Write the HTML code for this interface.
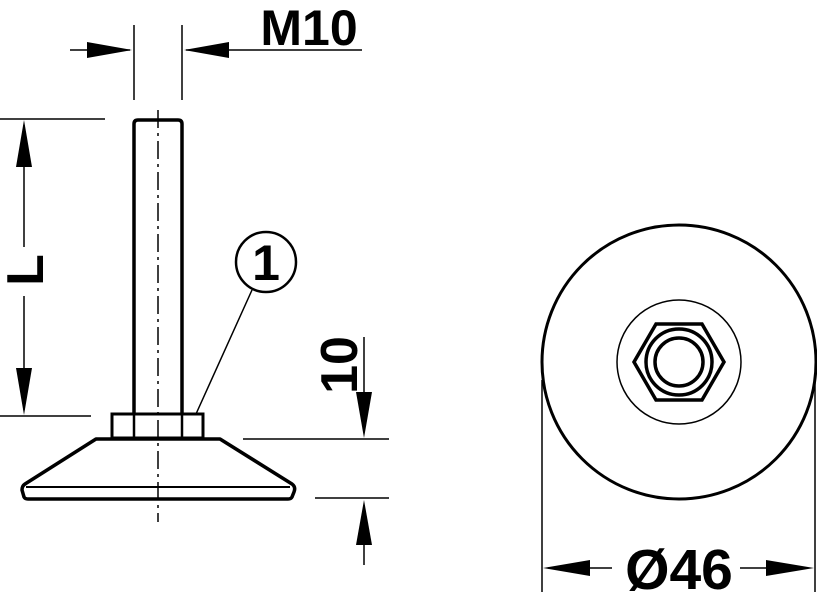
<!DOCTYPE html>
<html><head><style>html,body{margin:0;padding:0;background:#fff}svg{display:block}</style></head><body>
<svg width="817" height="592" viewBox="0 0 817 592" xmlns="http://www.w3.org/2000/svg">
<g stroke="#000" fill="none">
<path d="M134,414 V124 Q134,120 138,120 H178 Q182,120 182,124 V414" stroke-width="3.5"/>
<rect x="112" y="414" width="91" height="24" stroke-width="3"/>
<line x1="134" y1="414" x2="134" y2="438" stroke-width="2.5"/>
<line x1="182" y1="414" x2="182" y2="438" stroke-width="2.5"/>
<path d="M96,439 H220 L292,484 Q296,487 294,492 L292,497 Q291,499 288,499 H28 Q25,499 24,497 L22,490 Q22,486 25,484 Z" stroke-width="3.5" stroke-linejoin="round"/>
<line x1="26" y1="487" x2="290" y2="487" stroke-width="2"/>
<line x1="158" y1="110" x2="158" y2="522" stroke-width="1.5" stroke-dasharray="18,5,3,5"/>
<line x1="134" y1="25" x2="134" y2="100" stroke-width="1.5"/>
<line x1="182" y1="25" x2="182" y2="100" stroke-width="1.5"/>
<line x1="70" y1="50" x2="130" y2="50" stroke-width="1.5"/>
<line x1="186" y1="50" x2="362" y2="50" stroke-width="1.5"/>
<line x1="0" y1="119" x2="105" y2="119" stroke-width="1.5"/>
<line x1="0" y1="416" x2="91" y2="416" stroke-width="1.5"/>
<line x1="24" y1="125" x2="24" y2="247" stroke-width="1.5"/>
<line x1="24" y1="296" x2="24" y2="410" stroke-width="1.5"/>
<line x1="243" y1="439" x2="389" y2="439" stroke-width="1.5"/>
<line x1="315" y1="498" x2="389" y2="498" stroke-width="1.5"/>
<line x1="364" y1="337" x2="364" y2="430" stroke-width="1.5"/>
<line x1="364" y1="505" x2="364" y2="565" stroke-width="1.5"/>
<circle cx="266" cy="262" r="30" stroke-width="2.5"/>
<line x1="252" y1="290" x2="196" y2="414" stroke-width="1.5"/>
<circle cx="679" cy="362" r="137" stroke-width="3"/>
<circle cx="679" cy="362" r="62" stroke-width="1.5"/>
<polygon points="634,362 656,324 702,324 724,362 702,400 656,400" stroke-width="3.5"/>
<circle cx="679" cy="362" r="33" stroke-width="3.5"/>
<circle cx="679" cy="362" r="24" stroke-width="3.5"/>
<line x1="542" y1="380" x2="542" y2="592" stroke-width="1.5"/>
<line x1="815" y1="380" x2="815" y2="592" stroke-width="1.5"/>
<line x1="548" y1="568" x2="612" y2="568" stroke-width="1.5"/>
<line x1="740" y1="568" x2="808" y2="568" stroke-width="1.5"/>
</g>
<g fill="#000">
<polygon points="87,42 87,58 132,50"/>
<polygon points="229,42 229,58 184,50"/>
<polygon points="16,167 32,167 24,120"/>
<polygon points="16,368 32,368 24,415"/>
<polygon points="356,392 372,392 364,438"/>
<polygon points="356,545 372,545 364,500"/>
<polygon points="590,560 590,576 543,568"/>
<polygon points="766,560 766,576 814,568"/>
</g>
<g font-family="Liberation Sans, sans-serif" font-weight="bold" fill="#000">
<text x="309" y="45" font-size="50" text-anchor="middle">M10</text>
<text x="266" y="280" font-size="50" text-anchor="middle">1</text>
<text x="679" y="589" font-size="57" text-anchor="middle">Ø46</text>
<text transform="translate(43,270) rotate(-90)" font-size="52" text-anchor="middle">L</text>
<text transform="translate(357,365) rotate(-90)" font-size="52" text-anchor="middle">10</text>
</g>
</svg>
</body></html>
